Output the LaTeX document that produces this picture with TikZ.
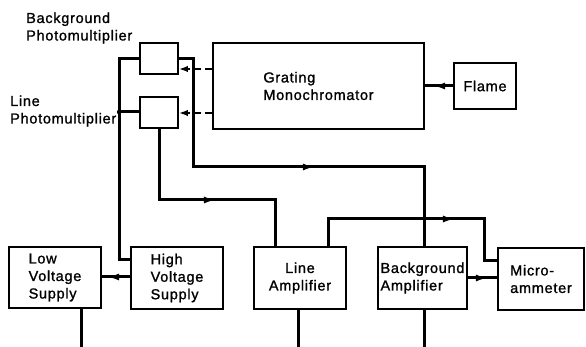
\documentclass[tikz,border=0pt]{standalone}
\usepackage{fontspec}
\setmainfont[LetterSpace=5,FakeBold=1.2]{Liberation Sans}
\usetikzlibrary{arrows.meta,decorations.markings}
\begin{document}
\begin{tikzpicture}[x=1pt,y=-1pt,
  every node/.style={font=\fontsize{14.5}{17.5}\selectfont},
  blk/.style={draw,line width=1.9pt,rectangle,inner sep=0pt,align=left},
  lbl/.style={align=left,inner sep=0pt,anchor=west},
  sig/.style={line width=3pt},
  dsh/.style={line width=2pt,dash pattern=on 7pt off 4pt,-{Latex[length=9pt,width=6.5pt]}},
  midarrow/.style={postaction={decorate},decoration={markings,mark=at position #1 with {\arrow{Latex[length=12pt,width=7pt]}}}}]
\useasboundingbox (0,0) rectangle (586,347);
% boxes
\node[blk,minimum width=38pt,minimum height=31pt] (bgpm) at (159,58.5) {};
\node[blk,minimum width=38pt,minimum height=31pt] (lnpm) at (159,112.5) {};
\node[blk,minimum width=211pt,minimum height=86pt] (mono) at (318.5,86) {Grating\\Monochromator};
\node[blk,minimum width=62pt,minimum height=46pt,align=center] (flame) at (485,86) {Flame};
\node[blk,minimum width=92pt,minimum height=61pt] (lvs) at (55,277.5) {Low\\Voltage\\Supply};
\node[blk,minimum width=92pt,minimum height=62pt] (hvs) at (177,278) {High\\Voltage\\Supply};
\node[blk,minimum width=92pt,minimum height=62pt,align=center] (lamp) at (300,278) {Line\\Amplifier};
\node[blk,minimum width=89pt,minimum height=62pt] (bamp) at (422.5,278) {Background\\Amplifier};
\node[blk,minimum width=86pt,minimum height=62pt] (micro) at (541,279) {Micro-\\ammeter};
% labels
\node[lbl] (bglbl) at (26,28) {Background\\Photomultiplier};
\node[lbl] (lnlbl) at (10,111) {Line\\Photomultiplier};
% flame to monochromator
\draw[sig,midarrow=20pt] (flame.west) -- (mono.east |- flame.west);
% dashed light paths
\draw[dsh] (mono.west |- 0,69) -- (bgpm.east |- 0,69);
\draw[dsh] (mono.west |- 0,113) -- (lnpm.east |- 0,113);
% background PMT to background amplifier
\draw[sig,midarrow=244pt] (bgpm.east |- 0,59) -- (193,59) -- (193,167) -- (424,167) -- (bamp.north -| 424,0);
% high voltage feed
\coordinate (hvbus) at (119,112);
\draw[sig] (bgpm.west |- 0,59) -- (119,59) -- (119,260) -- (hvs.west |- 0,260);
\draw[sig] (lnpm.west |- 0,112) -- (hvbus);
\fill (hvbus) circle (2.2pt);
% line PMT to line amplifier
\draw[sig,midarrow=128pt] (lnpm.south) -- (159,200) -- (275,200) -- (lamp.north -| 275,0);
% line amplifier to micro-ammeter
\draw[sig,midarrow=154pt] (lamp.north -| 328,0) -- (328,219) -- (484,219) -- (484,261) -- (micro.west |- 0,261);
% background amplifier to micro-ammeter
\draw[sig,midarrow=20pt] (bamp.east |- 0,278) -- (micro.west |- 0,278);
% supplies
\draw[sig,midarrow=23pt] (hvs.west |- 0,277) -- (lvs.east |- 0,277);
% outputs leaving the page
\coordinate (lvout) at (81,347);
\coordinate (laout) at (298,347);
\coordinate (baout) at (424,347);
\draw[sig] (lvs.south -| lvout) -- (lvout);
\draw[sig] (lamp.south -| laout) -- (laout);
\draw[sig] (bamp.south -| baout) -- (baout);
\end{tikzpicture}
\end{document}
